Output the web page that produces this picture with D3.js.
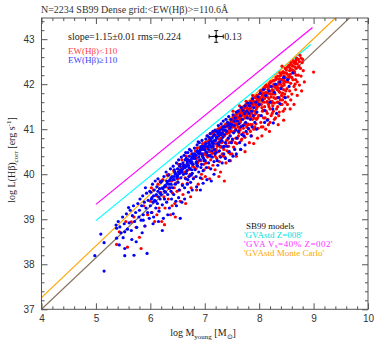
<!DOCTYPE html>
<html>
<head>
<meta charset="utf-8">
<script src="https://cdn.jsdelivr.net/npm/d3@7"></script>
<style>
body { margin: 0; background: #fff; }
svg text { font-family: "Liberation Serif", serif; }
.tick text { font-family: "Liberation Sans", sans-serif; font-size: 10px; fill: #333; }
</style>
</head>
<body>
<div class="container"></div>
<script>
const xTicks = [4, 5, 6, 7, 8, 9, 10];
const yTicks = [37, 38, 39, 40, 41, 42, 43];

// model lines, data units [x, y]
const fitLine = [[4, 37.0], [9.8, 43.63]];
const mcLine = [[4, 37.26], [9.5, 43.585]];
const z008Line = [[5.0, 38.97], [8.95, 42.88]];
const z002Line = [[5.0, 39.33], [8.98, 43.26]];
const modelLabels = ["SB99 models", "'GVAstd Z=008'", "'GVA V", "'GVAstd Monte Carlo'"];

const errCenter = [7.21, 43.06], errSize = 0.13;

const bluePts = [
[5.09,38.67],[5.15,38.48],[4.98,38.19],[5.15,37.85],[5.53,38.19],[5.70,38.20],[5.37,38.87],[5.38,38.80],[5.50,38.59],[5.53,38.72],[5.60,39.26],[5.44,38.83],[5.38,38.58],[5.53,38.35],[5.43,38.43],[5.87,38.98],[5.94,38.24],
[5.41,38.95],[5.46,38.70],[5.49,39.05],[5.52,38.90],[5.56,39.12],[5.58,38.78],
[5.61,38.92],[5.63,39.20],[5.65,38.75],[5.67,39.08],[5.69,39.30],[5.71,38.95],[5.73,39.15],[5.75,38.82],[5.77,39.35],[5.79,39.05],[5.66,38.55],[5.74,38.50],
[5.80,39.20],[5.81,39.45],[5.83,38.98],[5.84,39.30],[5.86,39.52],[5.87,39.10],[5.89,39.38],[5.90,38.85],[5.92,39.25],[5.93,39.58],[5.95,39.15],[5.96,39.42],[5.98,39.02],[5.99,39.62],[5.85,38.70],[5.91,39.70],
[6.00,39.30],[6.01,39.60],[6.02,39.15],[6.03,39.48],[6.04,39.78],[6.05,39.38],[6.06,39.05],[6.07,39.65],[6.08,39.42],[6.09,39.85],[6.10,39.25],[6.11,39.55],[6.12,39.72],[6.13,39.35],[6.14,39.90],[6.15,39.50],[6.16,39.18],[6.17,39.68],[6.18,39.45],[6.19,39.82],[6.05,38.90],[6.15,38.95],
[6.20,39.55],[6.21,39.85],[6.22,39.32],[6.23,39.68],[6.24,39.02],[6.25,39.95],[6.26,39.45],[6.27,39.75],[6.28,39.60],[6.29,40.05],[6.30,39.38],[6.31,39.80],[6.32,39.55],[6.33,39.98],[6.34,39.70],[6.35,39.25],[6.36,39.88],[6.37,40.12],[6.38,39.62],[6.39,39.45],[6.22,38.75],[6.32,39.10],[6.26,39.72],[6.34,39.85],[6.38,39.78],
[6.40,39.95],[6.41,39.70],[6.42,40.18],[6.43,39.55],[6.44,39.88],[6.45,40.05],[6.46,39.78],[6.47,39.40],[6.48,40.25],[6.49,39.92],[6.50,40.12],[6.51,39.82],[6.52,40.32],[6.53,39.65],[6.54,40.02],[6.55,40.22],[6.55,39.02],[6.56,39.92],[6.57,40.38],[6.58,40.10],[6.59,39.75],[6.42,39.12],[6.48,39.30],[6.52,39.48],[6.58,39.38],[6.44,40.10],[6.50,39.95],[6.54,40.18],[6.46,40.00],[6.56,40.05],
[6.60,40.25],[6.61,40.00],[6.62,40.42],[6.63,39.70],[6.64,40.15],[6.65,39.90],[6.66,40.35],[6.67,40.08],[6.68,39.78],[6.69,40.48],[6.70,40.20],[6.71,39.95],[6.72,40.40],[6.73,40.12],[6.74,39.82],[6.75,40.52],[6.76,40.28],[6.77,40.02],[6.78,40.45],[6.79,39.90],[6.63,39.45],[6.70,39.60],[6.77,39.65],[6.61,40.18],[6.64,40.32],[6.66,40.02],[6.68,40.25],[6.71,40.15],[6.73,40.30],[6.76,40.10],[6.78,40.22],[6.65,40.48],[6.72,40.55],[6.69,39.88],[6.75,39.98],
[6.80,40.35],[6.81,40.58],[6.82,40.10],[6.83,40.42],[6.84,39.95],[6.85,40.28],[6.86,40.65],[6.87,40.18],[6.88,40.48],[6.89,40.05],[6.90,40.70],[6.91,40.32],[6.92,39.92],[6.93,40.55],[6.94,40.22],[6.95,40.75],[6.96,40.40],[6.97,40.08],[6.98,40.62],[6.99,40.30],[6.85,39.72],[6.92,39.65],[6.97,39.80],[6.82,40.45],[6.84,40.25],[6.87,40.52],[6.89,40.38],[6.91,40.50],[6.93,40.15],[6.95,40.45],[6.98,40.35],[6.86,40.20],[6.94,40.60],[6.88,40.72],[6.99,40.55],
[7.00,40.55],[7.01,40.30],[7.02,40.78],[7.03,40.15],[7.04,40.48],[7.05,40.85],[7.06,40.62],[7.07,40.25],[7.08,40.70],[7.09,40.42],[7.10,40.90],[7.11,40.12],[7.12,40.60],[7.13,40.80],[7.14,40.38],[7.15,40.95],[7.16,40.68],[7.17,40.28],[7.18,40.55],[7.19,40.98],[7.04,39.88],[7.12,39.85],[7.17,40.00],[7.02,40.50],[7.06,40.42],[7.09,40.65],[7.11,40.75],[7.13,40.52],[7.15,40.62],[7.18,40.75],[7.01,40.65],[7.07,40.55],[7.14,40.70],[7.19,40.45],[7.10,40.40],
[7.20,40.75],[7.21,40.48],[7.22,40.95],[7.23,40.30],[7.24,40.68],[7.25,41.08],[7.26,40.85],[7.27,40.52],[7.28,40.98],[7.29,40.38],[7.30,41.12],[7.31,40.75],[7.32,40.92],[7.33,40.60],[7.34,41.18],[7.35,40.45],[7.36,40.88],[7.37,41.05],[7.38,40.70],[7.39,41.22],[7.24,40.20],[7.32,40.25],[7.38,40.35],[7.22,40.80],[7.26,40.65],[7.29,40.90],[7.33,40.82],[7.36,40.98],[7.28,40.72],[7.35,40.62],
[7.40,40.95],[7.41,40.62],[7.42,41.15],[7.43,40.80],[7.44,41.28],[7.45,40.50],[7.46,41.02],[7.47,40.85],[7.48,41.22],[7.49,40.70],[7.50,41.10],[7.51,40.78],[7.52,41.32],[7.53,40.92],[7.54,41.08],[7.55,40.55],[7.56,41.25],[7.57,40.98],[7.58,41.38],[7.59,40.80],[7.45,40.30],[7.52,40.40],[7.58,40.45],[7.47,41.05],[7.54,41.18],
[7.60,41.18],[7.61,41.40],[7.62,40.95],[7.63,41.12],[7.64,40.70],[7.65,41.30],[7.66,41.05],[7.67,41.48],[7.68,40.88],[7.69,41.22],[7.70,41.42],[7.71,41.08],[7.72,40.85],[7.73,41.35],[7.74,41.52],[7.75,41.15],[7.76,40.95],[7.77,41.40],[7.78,41.25],[7.79,41.58],[7.66,40.55],[7.74,40.65],
[7.80,41.02],[7.81,41.35],[7.82,41.52],[7.84,41.22],[7.85,41.58],[7.86,41.40],[7.87,41.05],[7.88,41.68],[7.89,41.30],[7.90,41.48],[7.92,41.15],[7.94,41.60],[7.96,41.38],[7.98,41.72],[7.85,40.85],[7.95,41.00],
[8.00,41.55],[8.02,41.80],[8.04,41.30],[8.06,41.65],[8.08,41.88],[8.10,41.42],[8.12,41.75],[8.15,41.20],[8.18,41.85],[8.20,41.60],[8.22,41.95],[8.25,41.45],[8.28,41.82],[8.30,42.00],[8.32,41.35],[8.35,41.70],[8.38,42.05],[8.40,41.90],[8.45,42.15],[8.48,41.70],[8.52,42.10],[8.55,41.95],[8.62,42.25],[8.26,41.14],[8.38,41.57],[8.10,41.15],
[6.02,39.45],[6.06,39.52],[6.10,39.40],[6.14,39.62],[6.18,39.58],[6.22,39.70],[6.26,39.62],[6.30,39.85],[6.34,39.78],[6.38,39.92],[6.42,39.88],[6.46,40.02],[6.50,39.98],[6.54,40.10],[6.58,40.05],[6.62,40.20],[6.66,40.18],[6.70,40.32],[6.74,40.25],[6.78,40.40],[6.82,40.35],[6.86,40.50],[6.90,40.45],[6.94,40.62],[6.98,40.55],[7.02,40.68],[7.06,40.60],[7.10,40.78],[7.14,40.72],[7.18,40.88],[7.22,40.82],[7.26,40.95],[7.30,40.88],[7.34,41.05],[7.38,40.98],[7.42,41.08],[7.46,41.12],
[6.28,39.75],[6.36,39.70],[6.44,39.95],[6.52,40.05],[6.60,40.12],[6.68,40.30],[6.76,40.35],[6.84,40.42],[6.92,40.55],[7.00,40.62],[7.08,40.82],[7.16,40.85],[7.24,40.90],[7.32,41.00]
];

const redPts = [
[5.43,38.72],[5.38,38.44],[5.58,38.38],[5.83,38.35],[5.65,38.94],[5.74,38.82],[5.80,38.60],[5.90,38.85],[5.95,39.10],[5.70,39.05],[5.55,38.95],[5.88,39.30],
[6.00,39.40],[6.03,39.15],[6.06,39.65],[6.08,38.95],[6.11,39.52],[6.14,39.78],[6.16,39.25],[6.19,39.60],[6.21,38.95],[6.23,39.88],[6.25,39.50],[6.27,39.25],[6.29,39.72],[6.31,39.98],[6.33,39.45],[6.35,39.68],[6.37,39.10],[6.39,39.85],[6.41,39.58],[6.43,40.08],[6.45,39.35],[6.47,39.80],[6.49,39.62],[6.12,39.10],[6.26,38.88],[6.40,39.30],[6.46,39.05],[6.02,39.70],[6.18,39.85],[6.34,40.00],[6.44,39.70],
[6.50,39.90],[6.52,40.22],[6.54,39.65],[6.56,40.05],[6.58,40.32],[6.60,39.55],[6.62,40.15],[6.64,39.92],[6.66,40.40],[6.68,39.80],[6.70,40.10],[6.72,40.28],[6.74,39.50],[6.76,40.45],[6.78,40.18],[6.80,39.92],[6.82,40.38],[6.84,40.12],[6.86,40.58],[6.88,39.78],[6.90,40.30],[6.92,40.45],[6.94,40.00],[6.96,40.68],[6.98,40.22],[6.55,39.40],[6.65,39.35],[6.75,39.70],[6.85,39.65],[6.95,39.90],[6.53,40.02],[6.61,40.20],[6.69,40.32],[6.77,40.25],[6.83,40.52],[6.91,40.60],[6.97,40.45],[6.59,39.78],[6.73,40.00],[6.87,40.25],[6.99,40.10],[6.57,40.15],[6.63,40.05],[6.67,40.22],[6.71,39.95],[6.79,40.40],[6.81,40.15],[6.89,40.45],[6.93,40.30],[6.51,40.05],[6.85,40.35],[6.95,40.55],
[7.00,40.45],[7.01,40.70],[7.02,40.25],[7.03,40.58],[7.04,40.85],[7.05,40.38],[7.06,40.62],[7.07,40.15],[7.08,40.75],[7.09,40.50],[7.10,40.90],[7.11,40.32],[7.12,40.65],[7.13,40.45],[7.14,40.82],[7.15,40.20],[7.16,40.72],[7.17,40.55],[7.18,40.95],[7.19,40.40],[7.20,40.68],[7.21,40.85],[7.22,40.35],[7.23,40.62],[7.24,41.00],[7.25,40.50],[7.26,40.78],[7.27,40.28],[7.28,40.92],[7.29,40.60],[7.30,40.80],[7.31,41.05],[7.32,40.45],[7.33,40.72],[7.34,40.95],[7.35,40.55],[7.36,40.85],[7.37,40.38],[7.38,41.10],[7.39,40.68],[7.40,40.90],[7.41,40.52],[7.42,41.12],[7.43,40.78],[7.44,40.62],[7.45,41.00],[7.46,40.85],[7.47,40.45],[7.48,41.15],[7.49,40.72],[7.01,39.95],[7.09,39.90],[7.19,40.10],[7.29,40.05],[7.39,40.25],[7.47,40.30],[7.36,39.85],[7.26,39.95],[7.03,40.42],[7.07,40.68],[7.11,40.80],[7.15,40.60],[7.17,40.88],[7.21,40.55],[7.23,40.95],[7.25,40.70],[7.27,41.02],[7.31,40.70],[7.33,40.88],[7.35,41.05],[7.37,40.62],[7.41,40.95],[7.43,41.05],[7.45,40.70],[7.49,40.95],[7.05,40.72],[7.13,40.92],[7.20,40.50],[7.30,40.62],[7.40,40.75],[7.44,40.48],[7.34,40.40],[7.16,40.48],[7.46,41.10],[7.28,40.40],
[7.50,41.05],[7.51,40.75],[7.52,41.25],[7.53,40.60],[7.54,40.95],[7.55,41.30],[7.56,41.10],[7.57,40.80],[7.58,41.20],[7.59,40.68],[7.60,41.35],[7.61,41.05],[7.62,40.85],[7.63,41.25],[7.64,41.42],[7.65,40.98],[7.66,41.18],[7.67,40.75],[7.68,41.38],[7.69,41.08],[7.70,41.22],[7.71,40.92],[7.72,41.50],[7.73,41.12],[7.74,40.82],[7.75,41.35],[7.76,41.55],[7.77,41.05],[7.78,40.90],[7.79,41.45],[7.80,41.25],[7.81,41.00],[7.82,41.58],[7.83,41.30],[7.84,41.10],[7.85,41.48],[7.86,40.85],[7.87,41.65],[7.88,41.22],[7.89,41.40],[7.90,41.00],[7.91,41.58],[7.92,41.32],[7.93,41.72],[7.94,41.12],[7.95,41.45],[7.96,41.65],[7.97,41.25],[7.98,41.02],[7.99,41.52],[7.50,40.45],[7.58,40.40],[7.66,40.55],[7.74,40.50],[7.82,40.70],[7.90,40.68],[7.97,40.80],[7.53,41.30],[7.57,41.00],[7.61,41.25],[7.65,41.15],[7.69,41.30],[7.73,41.40],[7.77,41.30],[7.81,41.42],[7.85,41.25],[7.89,41.55],[7.93,41.40],[7.97,41.60],[7.55,40.95],[7.63,40.92],[7.71,41.02],[7.79,41.12],[7.87,41.10],[7.95,41.22],[7.52,41.40],[7.64,41.52],[7.76,41.62],[7.88,41.75],[7.60,40.80],[7.72,40.85],[7.84,40.95],[7.92,41.05],[7.56,40.70],[7.68,40.78],[7.80,41.10],[7.94,41.35],[7.51,41.15],[7.59,41.10],[7.62,41.38],[7.67,41.05],[7.70,41.48],[7.75,41.10],[7.78,41.40],[7.83,41.52],[7.86,41.35],[7.91,41.25],[7.96,41.48],[7.99,41.30],[7.54,41.20],[7.64,41.00],[7.74,41.25],[7.84,41.62],[7.94,41.60],
[8.00,41.65],[8.01,41.30],[8.02,41.85],[8.03,41.15],[8.04,41.55],[8.05,41.78],[8.06,41.40],[8.07,41.05],[8.08,41.70],[8.09,41.92],[8.10,41.50],[8.11,41.25],[8.12,41.82],[8.13,41.98],[8.14,41.60],[8.15,41.35],[8.16,41.88],[8.17,41.10],[8.18,41.68],[8.19,42.02],[8.20,41.45],[8.21,41.78],[8.22,41.30],[8.23,41.95],[8.24,41.62],[8.25,41.85],[8.26,41.40],[8.27,42.08],[8.28,41.58],[8.29,41.78],[8.30,41.25],[8.31,41.92],[8.32,42.12],[8.33,41.70],[8.34,41.50],[8.35,42.00],[8.36,41.85],[8.37,41.38],[8.38,42.18],[8.39,41.65],[8.40,41.92],[8.41,42.10],[8.42,41.55],[8.43,41.80],[8.44,42.25],[8.45,41.72],[8.46,41.98],[8.47,41.45],[8.48,42.15],[8.49,41.85],[8.02,41.55],[8.06,41.75],[8.10,41.68],[8.14,41.80],[8.18,41.50],[8.22,41.72],[8.26,41.85],[8.30,41.68],[8.34,41.92],[8.38,41.82],[8.42,41.95],[8.46,42.08],[8.04,41.05],[8.12,41.00],[8.20,41.15],[8.28,41.22],[8.36,41.30],[8.44,41.40],[8.08,41.25],[8.16,41.22],[8.24,41.35],[8.32,41.45],[8.40,41.55],[8.48,41.60],[8.03,41.85],[8.11,41.95],[8.21,42.05],[8.31,42.15],[8.41,42.25],[8.07,41.42],[8.15,41.62],[8.23,41.58],[8.33,41.60],[8.43,41.65],[8.05,40.85],[8.19,40.95],[8.35,41.10],[8.45,41.20],[8.01,41.70],[8.05,41.48],[8.09,41.60],[8.13,41.40],[8.17,41.55],[8.21,41.62],[8.25,41.52],[8.29,41.95],[8.33,41.88],[8.37,41.70],[8.41,41.75],[8.45,41.88],[8.49,42.05],[8.27,41.70],[8.39,42.00],[8.47,41.78],[8.19,41.85],[8.11,41.78],[8.35,41.60],
[8.50,42.25],[8.51,41.90],[8.52,42.38],[8.53,41.72],[8.54,42.12],[8.55,42.42],[8.56,41.85],[8.57,42.22],[8.58,42.02],[8.59,42.48],[8.60,41.78],[8.61,42.32],[8.62,42.10],[8.63,42.52],[8.64,41.95],[8.65,42.28],[8.66,42.45],[8.67,41.88],[8.68,42.20],[8.69,42.58],[8.70,42.05],[8.72,42.38],[8.74,41.98],[8.75,42.64],[8.77,42.18],[8.79,42.48],[8.81,42.30],[8.83,42.05],[9.00,42.27],[8.52,41.55],[8.58,41.65],[8.64,41.55],[8.70,41.75],[8.78,41.85],[8.56,42.18],[8.62,42.40],[8.68,42.35],[8.74,42.50],[8.80,42.55],[8.57,41.45],[8.42,42.40],[8.67,42.10],[8.53,42.05],[8.60,42.15],[8.66,42.00],[8.72,42.20],[8.76,42.35],
[7.40,41.05],[7.42,40.95],[7.44,41.12],[7.46,41.00],[7.48,41.18],[7.50,41.20],[7.52,41.08],[7.54,41.26],[7.56,41.15],[7.58,41.32],[7.60,41.28],[7.62,41.18],[7.64,41.35],[7.66,41.25],[7.68,41.42],[7.70,41.35],[7.72,41.45],[7.74,41.30],[7.76,41.48],[7.78,41.40],
[7.80,41.55],[7.82,41.45],[7.84,41.60],[7.86,41.52],[7.88,41.65],[7.90,41.62],[7.92,41.70],[7.94,41.52],[7.96,41.75],[7.98,41.62],[8.00,41.78],[8.02,41.70],[8.04,41.85],[8.06,41.62],[8.08,41.80],[8.10,41.90],[8.12,41.75],[8.14,41.95],[8.16,41.80],[8.18,41.98],
[8.20,41.95],[8.22,42.05],[8.24,41.88],[8.26,42.08],[8.28,41.95],[8.30,42.10],[8.32,41.98],[8.34,42.18],[8.36,42.05],[8.38,42.25],[8.40,42.20],[8.42,42.10],[8.44,42.28],[8.46,42.18],[8.48,42.35],[8.50,42.32],[8.52,42.22],[8.54,42.40],[8.56,42.30],[8.58,42.45],
[8.60,42.42],[8.62,42.30],[8.64,42.48],[8.66,42.38],[8.68,42.55],[8.70,42.45],[8.72,42.55],[8.73,42.40],[8.77,42.58],
[7.45,40.92],[7.55,41.05],[7.65,41.20],[7.75,41.32],[7.85,41.40],[7.95,41.55],[8.05,41.65],[8.15,41.72],[8.25,41.78],[8.35,41.92],[8.45,42.02],[8.55,42.15],[8.65,42.25],
[7.47,41.10],[7.57,41.22],[7.67,41.35],[7.77,41.50],[7.87,41.58],[7.97,41.70],[8.07,41.88],[8.17,41.92],[8.27,42.00],[8.37,42.12],[8.47,42.25],[8.57,42.35],[8.67,42.50]
];

const w = 374, h = 354;
const svg = d3.select("div.container").append("svg")
    .attr("width", w)
    .attr("height", h);

const x = d3.scaleLinear().domain([4, 10]).range([41.5, 368]);
const y = d3.scaleLinear().domain([37, 43.47]).range([309.3, 18]);

const minorX = d3.range(4, 10.01, 0.2).filter(v => Math.abs(v - Math.round(v)) > 0.01);
const minorY = d3.range(37, 43.47, 0.2).filter(v => Math.abs(v - Math.round(v)) > 0.01);

svg.append("clipPath").attr("id", "plotclip")
    .append("rect")
    .attr("x", x(4)).attr("y", y(43.47))
    .attr("width", x(10) - x(4)).attr("height", y(37) - y(43.47));

// model lines
const line = d3.line().x(d => x(d[0])).y(d => y(d[1]));
const plotArea = svg.append("g").attr("clip-path", "url(#plotclip)");
[[fitLine, "#8a7560"], [z008Line, "#00ffff"], [z002Line, "#ff00ff"], [mcLine, "#ffa500"]].forEach(([d, c]) => {
    plotArea.append("path").datum(d)
        .attr("d", line)
        .attr("fill", "none")
        .attr("stroke", c)
        .attr("stroke-width", 1.2);
});

// red first, blue drawn over it
plotArea.selectAll("circle.red")
    .data(redPts)
    .enter()
    .append("circle")
    .attr("class", "red")
    .attr("cx", d => x(d[0]))
    .attr("cy", d => y(d[1]))
    .attr("r", 1.6)
    .attr("fill", "#ff0000");

plotArea.selectAll("circle.blue")
    .data(bluePts)
    .enter()
    .append("circle")
    .attr("class", "blue")
    .attr("cx", d => x(d[0]))
    .attr("cy", d => y(d[1]))
    .attr("r", 1.6)
    .attr("fill", "#0000ff");

// axes, ticks on all four sides pointing inwards
const axisCol = "#555";
const addAxis = (axis, tr) => {
    const g = svg.append("g").attr("transform", tr).call(axis);
    g.select(".domain").remove();
    g.selectAll("line").attr("stroke", axisCol);
    return g;
};
const fmt = d3.format("d");
addAxis(d3.axisBottom(x).tickValues(xTicks).tickSize(-6).tickPadding(6).tickFormat(fmt), "translate(0," + y(37) + ")");
addAxis(d3.axisBottom(x).tickValues(minorX).tickSize(-3).tickFormat(""), "translate(0," + y(37) + ")");
addAxis(d3.axisTop(x).tickValues(xTicks).tickSize(-6).tickFormat(""), "translate(0," + y(43.47) + ")");
addAxis(d3.axisTop(x).tickValues(minorX).tickSize(-3).tickFormat(""), "translate(0," + y(43.47) + ")");
addAxis(d3.axisLeft(y).tickValues(yTicks).tickSize(-6).tickPadding(7).tickFormat(fmt), "translate(" + x(4) + ",0)");
addAxis(d3.axisLeft(y).tickValues(minorY).tickSize(-3).tickFormat(""), "translate(" + x(4) + ",0)");
addAxis(d3.axisRight(y).tickValues(yTicks).tickSize(-6).tickFormat(""), "translate(" + x(10) + ",0)");
addAxis(d3.axisRight(y).tickValues(minorY).tickSize(-3).tickFormat(""), "translate(" + x(10) + ",0)");

svg.append("rect")
    .attr("x", x(4)).attr("y", y(43.47))
    .attr("width", x(10) - x(4)).attr("height", y(37) - y(43.47))
    .attr("fill", "none")
    .attr("stroke", axisCol)
    .attr("stroke-width", 1);

// title
svg.append("text")
    .attr("x", 41).attr("y", 13)
    .attr("font-size", 10).attr("fill", "#333")
    .text("N=2234 SB99 Dense grid:<EW(H\u03b2)>=110.6\u00c5");

// fit text + legend for points
svg.append("text")
    .attr("x", 68).attr("y", 40)
    .attr("font-size", 10).attr("fill", "#222")
    .text("slope=1.15\u00b10.01 rms=0.224");
svg.append("text")
    .attr("x", 68).attr("y", 54)
    .attr("font-size", 9).attr("fill", "#ff4040")
    .text("EW(H\u03b2)<110");
svg.append("text")
    .attr("x", 68).attr("y", 62.5)
    .attr("font-size", 9).attr("fill", "#4040ff")
    .text("EW(H\u03b2)\u2265110");

// error bar
const ex = x(errCenter[0]), ey = y(errCenter[1]);
const eb = svg.append("g").attr("stroke", "#111").attr("stroke-width", 1);
eb.append("line").attr("x1", x(errCenter[0] - errSize)).attr("x2", x(errCenter[0] + errSize)).attr("y1", ey).attr("y2", ey);
eb.append("line").attr("x1", ex).attr("x2", ex).attr("y1", y(errCenter[1] - errSize)).attr("y2", y(errCenter[1] + errSize));
eb.append("line").attr("x1", x(errCenter[0] - errSize)).attr("x2", x(errCenter[0] - errSize)).attr("y1", ey - 2).attr("y2", ey + 2);
eb.append("line").attr("x1", x(errCenter[0] + errSize)).attr("x2", x(errCenter[0] + errSize)).attr("y1", ey - 2).attr("y2", ey + 2);
eb.append("line").attr("x1", ex - 2).attr("x2", ex + 2).attr("y1", y(errCenter[1] - errSize)).attr("y2", y(errCenter[1] - errSize));
eb.append("line").attr("x1", ex - 2).attr("x2", ex + 2).attr("y1", y(errCenter[1] + errSize)).attr("y2", y(errCenter[1] + errSize));
svg.append("circle").attr("cx", ex).attr("cy", ey).attr("r", 1.6).attr("fill", "#000");
svg.append("text")
    .attr("x", x(errCenter[0] + errSize) + 1).attr("y", ey + 3.5)
    .attr("font-family", "Liberation Sans, sans-serif")
    .attr("font-size", 10).attr("fill", "#222")
    .text(errSize.toFixed(2));

// model legend
const lg = svg.append("g").attr("font-size", 9);
lg.append("text").attr("x", 246).attr("y", 228.5)
    .attr("font-family", "Liberation Sans, sans-serif").attr("fill", "#111")
    .text(modelLabels[0]);
lg.append("text").attr("x", 244).attr("y", 237.5)
    .attr("font-family", "Liberation Sans, sans-serif").attr("fill", "#00e0e0")
    .text(modelLabels[1]);
const t3 = lg.append("text").attr("x", 244).attr("y", 246.5)
    .attr("fill", "#ff30ff").attr("letter-spacing", 0.5);
t3.append("tspan").text(modelLabels[2]);
t3.append("tspan").attr("dy", 1.5).attr("font-size", 6.5).text("s");
t3.append("tspan").attr("dy", -1.5).text("=40% Z=002'");
lg.append("text").attr("x", 244).attr("y", 256)
    .attr("font-family", "Liberation Sans, sans-serif").attr("fill", "#ffa500")
    .text(modelLabels[3]);

// axis labels
const xl = svg.append("text")
    .attr("x", 203).attr("y", 336)
    .attr("text-anchor", "middle")
    .attr("font-size", 10).attr("fill", "#222");
xl.append("tspan").text("log  M");
xl.append("tspan").attr("dy", 2.5).attr("font-size", 7).text("young");
xl.append("tspan").attr("dy", -2.5).text("  [M");
xl.append("tspan").attr("dy", 2.5).attr("font-size", 7).text("\u2299");
xl.append("tspan").attr("dy", -2.5).text("]");

const yl = svg.append("text")
    .attr("transform", "translate(15,160) rotate(-90)")
    .attr("text-anchor", "middle")
    .attr("font-size", 10).attr("fill", "#222");
yl.append("tspan").text("log  L(H\u03b2)");
yl.append("tspan").attr("dy", 2.5).attr("font-size", 7).text("corr");
yl.append("tspan").attr("dy", -2.5).text("  [erg  s");
yl.append("tspan").attr("dy", -4).attr("font-size", 7).text("-1");
yl.append("tspan").attr("dy", 4).text("]");
</script>
</body>
</html>
